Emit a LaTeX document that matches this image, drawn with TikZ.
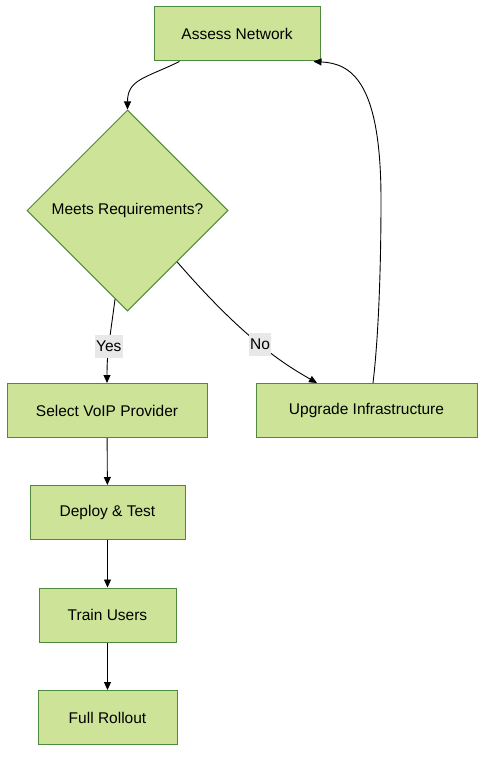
\documentclass[tikz,border=0pt]{standalone}
\usepackage{fontspec}
\setmainfont{Liberation Sans}
\usetikzlibrary{shapes.geometric,arrows.meta}
\definecolor{stepfill}{HTML}{CDE498}
\definecolor{stepline}{HTML}{4F8A3C}
\definecolor{labelbg}{HTML}{E8E8E8}
\begin{document}
\begin{tikzpicture}[x=1pt,y=-1pt,
  every node/.style={font=\fontsize{15.5}{18}\selectfont},
  stepbox/.style={draw=stepline,fill=stepfill,line width=1pt,rectangle,inner sep=0pt,minimum height=54pt},
  decision/.style={draw=stepline,fill=stepfill,line width=1pt,diamond,aspect=1,inner sep=0pt,minimum size=201pt},
  arr/.style={-{Triangle[length=8pt,width=7pt]},line width=0.9pt},
  edgelabel/.style={fill=labelbg,inner sep=1.5pt,minimum height=23pt}]
\useasboundingbox (0,0) rectangle (493,765);
\node[stepbox,minimum width=166pt] (assess) at (237,34) {Assess Network};
\node[decision] (meets) at (127.5,210.5) {Meets Requirements?};
\node[stepbox,minimum width=200pt] (voip) at (107,410.5) {Select VoIP Provider};
\node[stepbox,minimum width=221pt] (upgrade) at (366.5,410.5) {Upgrade Infrastructure};
\node[stepbox,minimum width=155pt] (deploy) at (107.5,512.5) {Deploy \& Test};
\node[stepbox,minimum width=137pt] (train) at (107.5,615) {Train Users};
\node[stepbox,minimum width=139pt] (rollout) at (107.5,717.5) {Full Rollout};
\coordinate (loopup) at (381,200);
% connectors
\draw[arr] ([xshift=26pt]assess.south west) .. controls +(-35,17) and +(0,-30) .. (meets.north);
\draw[arr] (meets.-98) .. controls +(-6,45) and +(0,-30) .. node[edgelabel,pos=0.5]{Yes} (voip.north);
\draw[arr] (meets.-46) .. controls +(66,76) and +(-35,-20) .. node[edgelabel,pos=0.51]{No} ([xshift=-49.5pt]upgrade.north);
\draw[arr] ([xshift=6.5pt]upgrade.north) .. controls +(6,-50) and +(0,60) .. (loopup)
  .. controls +(0,-120) and +(37,2) .. ([xshift=-7pt]assess.south east);
\draw[arr] (voip) -- (deploy);
\draw[arr] (deploy) -- (train);
\draw[arr] (train) -- (rollout);
\end{tikzpicture}
\end{document}
